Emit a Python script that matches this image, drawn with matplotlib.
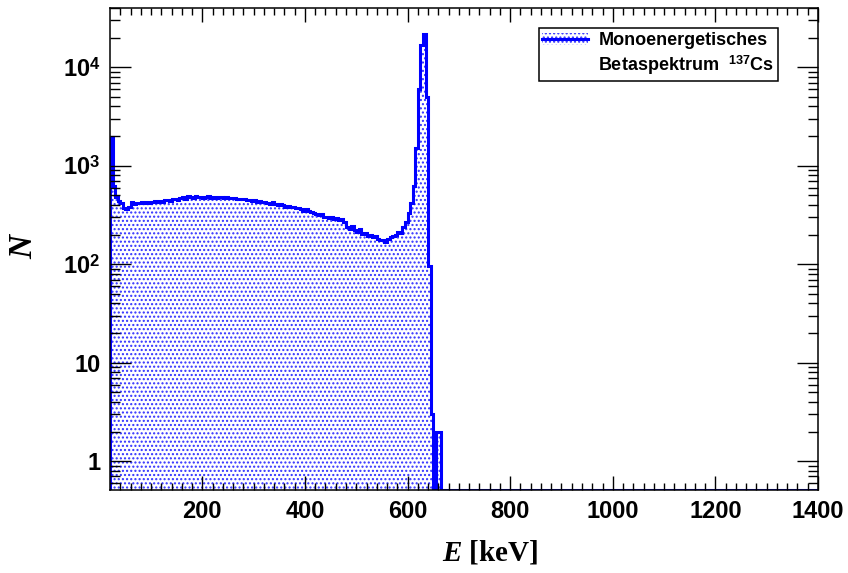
import numpy as np
import matplotlib
matplotlib.use('Agg')
import matplotlib.pyplot as plt
from matplotlib.patches import Patch
from matplotlib.lines import Line2D

# Spektrum, 5 keV Bins ab 20 keV, letzter Bin 670-1400 leer
bin_start = 20
bin_width = 5
x_max = 1400
counts = [
    1950, 620, 480, 440, 420, 375, 365, 380, 425, 410,
    420, 415, 425, 420, 430, 418, 425, 435, 428, 440,
    430, 445, 450, 440, 455, 460, 450, 470, 485, 460,
    490, 480, 470, 490, 478, 485, 470, 480, 490, 475,
    480, 470, 485, 478, 470, 480, 475, 468, 472, 460,
    465, 455, 460, 448, 452, 440, 445, 430, 438, 425,
    430, 420, 405, 425, 410, 398, 405, 395, 385, 392,
    380, 385, 370, 375, 360, 350, 365, 345, 340, 330,
    325, 315, 320, 300, 305, 295, 300, 290, 292, 280,
    285, 270, 240, 230, 245, 225, 215, 230, 205, 210,
    195, 200, 188, 192, 180, 175, 178, 170, 180, 188,
    195, 200, 215, 210, 240, 270, 330, 420, 620, 1500,
    6000, 17000, 22000, 5000, 95, 3, 0, 2, 2, 0,
    0,
]
y_min = 0.51
y_max = 40000
y_ticks = [1, 10, 100, 1000, 10000]
y_ticklabels = ['1', '10', r'$10^{2}$', r'$10^{3}$', r'$10^{4}$']
x_ticks = [200, 400, 600, 800, 1000, 1200, 1400]
label_1 = 'Monoenergetisches'
label_2 = r'Betaspektrum  $^{137}$Cs'

plt.rcParams['mathtext.fontset'] = 'custom'
plt.rcParams['mathtext.rm'] = 'Liberation Sans:bold'
plt.rcParams['mathtext.bf'] = 'Liberation Sans:bold'
plt.rcParams['mathtext.it'] = 'Liberation Serif:bold:italic'
plt.rcParams['hatch.color'] = '#3030ff'
plt.rcParams['hatch.linewidth'] = 1.0

edges = np.append(np.arange(bin_start, bin_start + bin_width * len(counts), bin_width), x_max)
values = np.maximum(np.array(counts, dtype=float), y_min)

fig = plt.figure(figsize=(8.48, 5.73), dpi=100)
ax = fig.add_axes([110 / 848, 1 - 490 / 573, 708 / 848, 482 / 573])

ax.stairs(values, edges, baseline=y_min, fill=True, facecolor='none',
          edgecolor='#3030ff', hatch='....', linewidth=0)
ax.stairs(values, edges, baseline=y_min, color='blue', linewidth=2.2)

ax.set_yscale('log')
ax.set_xlim(bin_start, x_max)
ax.set_ylim(y_min, y_max)
ax.set_xticks(x_ticks)
ax.set_xticks(np.arange(40, x_max, 20), minor=True)
ax.set_yticks(y_ticks)
ax.set_yticklabels(y_ticklabels)

for lab in ax.get_xticklabels() + ax.get_yticklabels():
    lab.set_fontfamily('Liberation Sans')
    lab.set_fontweight('bold')
    lab.set_fontsize(17)

ax.tick_params(which='both', direction='in', top=True, right=True, width=1, color='black')
ax.tick_params(axis='x', which='major', length=10, pad=7)
ax.tick_params(axis='x', which='minor', length=5)
ax.tick_params(axis='y', which='major', length=15, pad=7)
ax.tick_params(axis='y', which='minor', length=7.5)
for sp in ax.spines.values():
    sp.set_linewidth(1.1)

ax.set_xlabel(r'$E$ [keV]', fontfamily='Liberation Serif', fontweight='bold', fontsize=21)
ax.xaxis.set_label_coords(0.537, -0.13)
ax.xaxis.label.set_va('center')
ax.set_ylabel(r'$N$', fontfamily='Liberation Serif', fontweight='bold', fontsize=24)
ax.yaxis.set_label_coords(-0.122, 0.508)
ax.yaxis.label.set_va('center')

# Legende: Symbol nur in der ersten Zeile
h1 = (Patch(facecolor='none', edgecolor='#3030ff', hatch='....', linewidth=0),
      Line2D([], [], color='blue', linewidth=2.2))
h2 = Patch(facecolor='none', edgecolor='none')
leg = ax.legend([h1, h2], [label_1, label_2], loc='upper right',
                bbox_to_anchor=(0.944, 0.958), borderaxespad=0,
                fancybox=False, framealpha=1,
                edgecolor='black', handlelength=2.5, handletextpad=0.6,
                borderpad=0.22, labelspacing=0.25,
                prop={'family': 'Liberation Sans', 'weight': 'bold', 'size': 13})
leg.get_frame().set_linewidth(1.1)

fig.savefig('out.png', dpi=100)
